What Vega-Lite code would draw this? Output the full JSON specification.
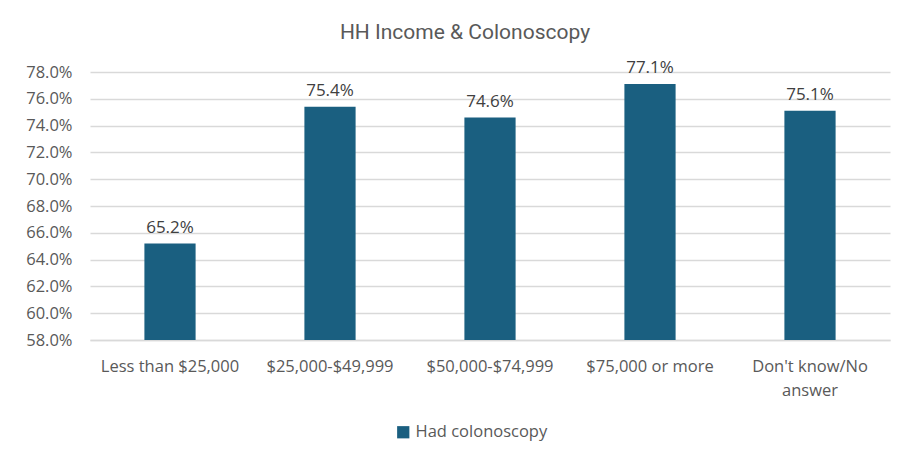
{
  "$schema": "https://vega.github.io/schema/vega-lite/v6.json",
  "autosize": {"type": "none"},
  "padding": {"left": 90, "top": 72, "right": 30, "bottom": 114},
  "width": 800,
  "height": 268,
  "background": "white",
  "title": {
    "text": "HH Income & Colonoscopy",
    "font": "Roboto",
    "fontSize": 21,
    "fontWeight": "normal",
    "color": "#595959",
    "anchor": "middle",
    "dx": -25,
    "offset": 16
  },
  "data": {
    "values": [
      {"income": "Less than $25,000", "rate": 0.652, "series": "Had colonoscopy"},
      {"income": "$25,000-$49,999", "rate": 0.754, "series": "Had colonoscopy"},
      {"income": "$50,000-$74,999", "rate": 0.746, "series": "Had colonoscopy"},
      {"income": "$75,000 or more", "rate": 0.771, "series": "Had colonoscopy"},
      {"income": "Don't know/No answer", "rate": 0.751, "series": "Had colonoscopy"}
    ]
  },
  "encoding": {
    "x": {
      "field": "income",
      "type": "nominal",
      "sort": null,
      "scale": {"paddingInner": 0.68, "paddingOuter": 0.34},
      "axis": {
        "title": null,
        "labelAngle": 0,
        "labelFont": "Open Sans",
        "labelFontSize": 16.5,
        "labelColor": "#595959",
        "labelPadding": 18,
        "ticks": false,
        "domainColor": "#d9d9d9",
        "domainWidth": 1.5,
        "labelLimit": 200,
        "labelLineHeight": 24,
        "labelExpr": "datum.label == \"Don't know/No answer\" ? [\"Don't know/No\", \"answer\"] : datum.label"
      }
    },
    "y": {
      "field": "rate",
      "type": "quantitative",
      "scale": {"domain": [0.58, 0.78], "zero": false, "clamp": true},
      "axis": {
        "title": null,
        "format": ".1%",
        "values": [0.58, 0.60, 0.62, 0.64, 0.66, 0.68, 0.70, 0.72, 0.74, 0.76, 0.78],
        "labelFont": "Open Sans",
        "labelFontSize": 16.5,
        "labelColor": "#595959",
        "labelPadding": 18,
        "ticks": false,
        "domain": false,
        "gridColor": "#d9d9d9",
        "gridWidth": 1.5
      }
    }
  },
  "layer": [
    {
      "mark": {"type": "bar"},
      "encoding": {
        "color": {
          "field": "series",
          "type": "nominal",
          "scale": {"range": ["#1a5f80"]},
          "legend": {
            "title": null,
            "orient": "none",
            "legendX": 305,
            "legendY": 352,
            "direction": "horizontal",
            "symbolType": "square",
            "symbolSize": 150,
            "symbolStrokeWidth": 0,
            "labelFont": "Open Sans",
            "labelFontSize": 16.5,
            "labelColor": "#595959"
          }
        }
      }
    },
    {
      "mark": {"type": "text", "baseline": "bottom", "dy": -7, "font": "Open Sans", "fontSize": 17, "color": "#404040"},
      "encoding": {
        "text": {"field": "rate", "type": "quantitative", "format": ".1%"}
      }
    }
  ],
  "config": {"view": {"stroke": null}}
}
